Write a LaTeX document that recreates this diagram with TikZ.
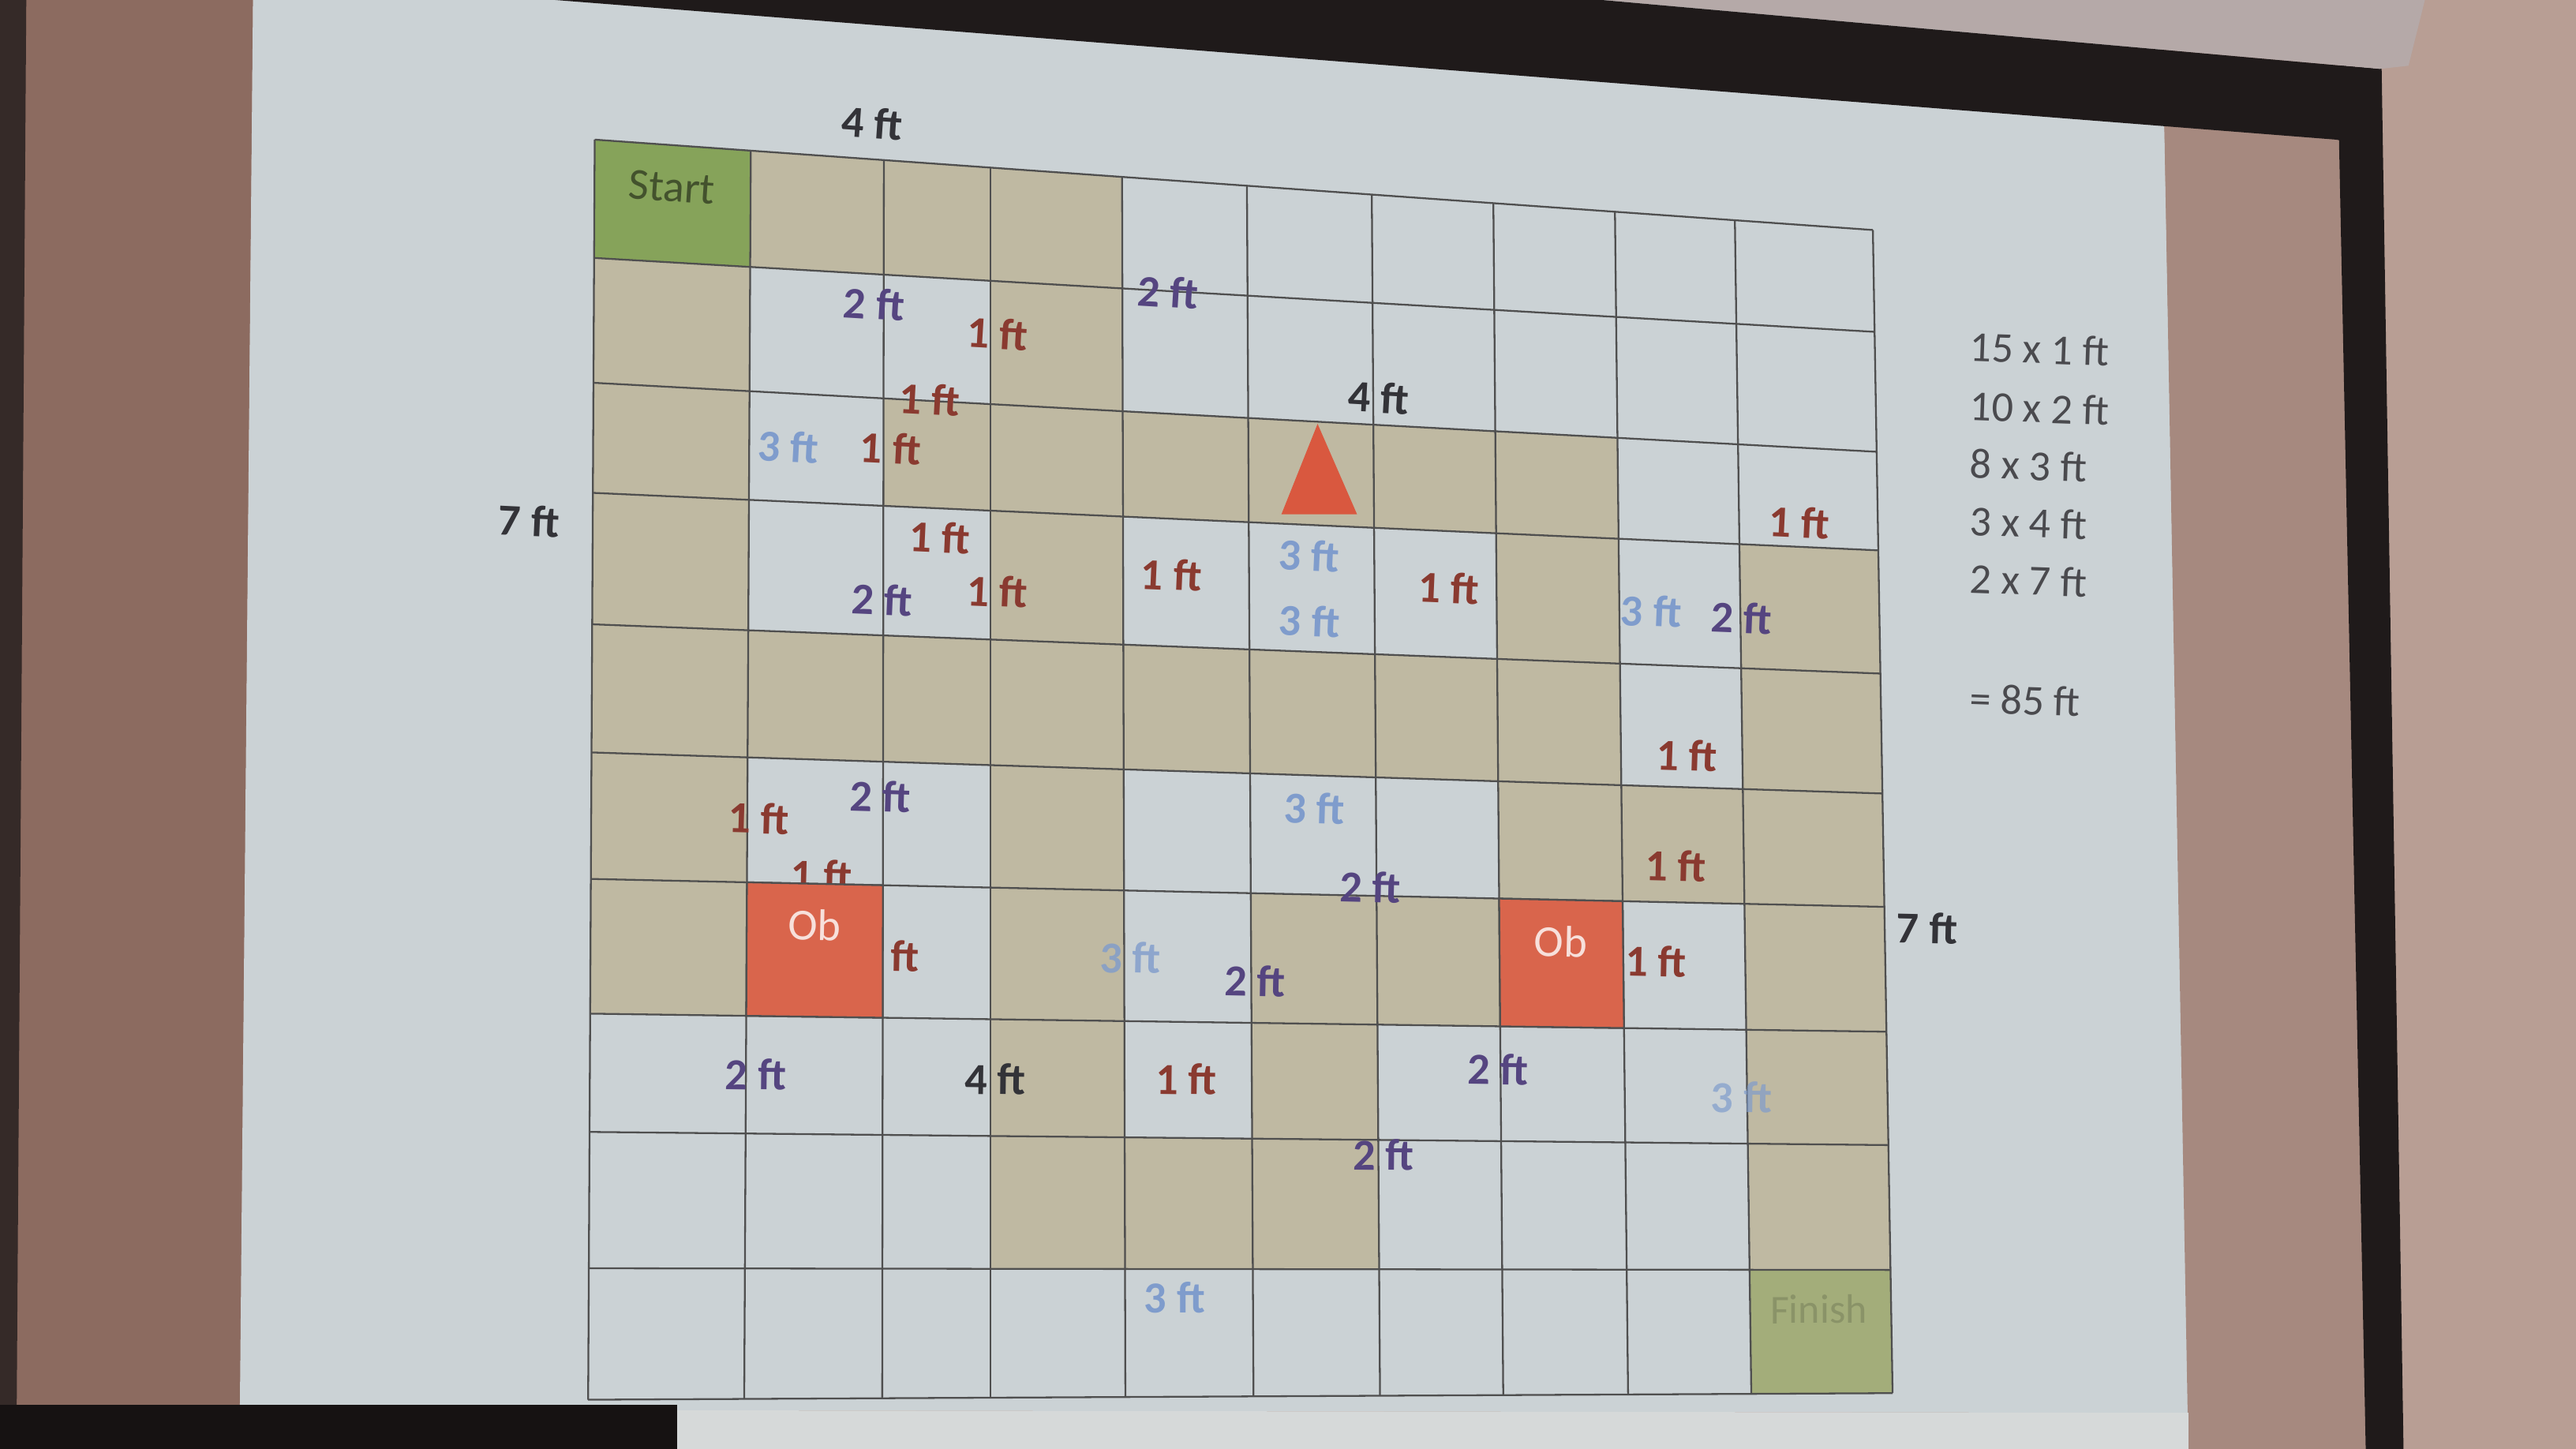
\documentclass[tikz,border=0pt]{standalone}
\usepackage{fontspec}
\setmainfont{Carlito}
\definecolor{slidebg}{HTML}{CBD2D5}
\definecolor{leftwall}{HTML}{8C6B60}
\definecolor{rightwall}{HTML}{B89E94}
\definecolor{pinkscreen}{HTML}{A6897F}
\definecolor{framecol}{HTML}{1F1A1A}
\definecolor{casecol}{HTML}{B5A9A8}
\definecolor{screenlow}{HTML}{D6D9D9}
\definecolor{tancol}{HTML}{BFB9A2}
\definecolor{startcol}{HTML}{86A35A}
\definecolor{finishcol}{HTML}{A3AD7A}
\definecolor{obcol}{HTML}{D9654C}
\definecolor{tricol}{HTML}{D9583F}
\definecolor{gridcol}{HTML}{4F4F4F}
\definecolor{labR}{HTML}{8A3A30}
\definecolor{labP}{HTML}{554580}
\definecolor{labB}{HTML}{7F9CCC}
\definecolor{labK}{HTML}{333338}
\definecolor{sumcol}{HTML}{4A4A4E}
\tikzset{
  gridline/.style={draw=gridcol, line width=1.1pt},
  lbl/.style={inner sep=0pt, font=\fontsize{27}{27}\selectfont\bfseries},
  ftR/.style={lbl, text=labR},
  ftP/.style={lbl, text=labP},
  ftB/.style={lbl, text=labB},
  ftK/.style={lbl, text=labK},
  celltxt/.style={inner sep=0pt, font=\fontsize{27}{27}\selectfont},
  sumtxt/.style={inner sep=0pt, anchor=west, text=sumcol, font=\fontsize{26}{26}\selectfont, rotate=-2}
}
\newcommand\ftlab[5]{%
  \pgfmathsetmacro\labrot{-4.0+(#3-85)*0.0057}%
  \node[#4, rotate=\labrot] (#1) at (#2,#3) {#5};}
\begin{document}
\begin{tikzpicture}[x=1pt,y=-1pt]
\useasboundingbox (0,0) rectangle (1568,882);
% ---- photo background ----
\fill[rightwall] (0,0) rectangle (1568,882);
\fill[leftwall] (0,0) -- (154,0) -- (146,882) -- (0,882) -- cycle;
\fill[framecol!80!leftwall] (0,0) -- (16,0) -- (10,882) -- (0,882) -- cycle;
\fill[slidebg] (154,0) -- (1316,0) -- (1332,860) -- (146,858) -- cycle;
\fill[pinkscreen] (1316,0) -- (1424,0) -- (1442,882) -- (1332,882) -- cycle;
\fill[screenlow] (146,858) -- (1332,860) -- (1332,882) -- (146,882) -- cycle;
\fill[framecol!70!black] (0,855) rectangle (412,882);
\fill[framecol] (1422,0) -- (1449,0) -- (1463,882) -- (1440,882) -- cycle;
\fill[casecol] (975,0) -- (1448,42) -- (1466,40) -- (1476,0) -- cycle;
\fill[framecol] (338,0) -- (975,0) -- (1448,42) -- (1449,90) -- (1422,85) -- cycle;
% ---- grid geometry ----
\def\vlist{0/362/358,1/457/453,2/538/537,3/603/603,4/683/685,5/759/763,6/835/840,7/909/915,8/983/991,9/1056/1066,10/1140/1152}
\def\hlist{0/85/140,1/157/202,2/233/275,3/300/335,4/380/410,5/458/483,6/535/552,7/617/628,8/689/697,9/772/773,10/852/848}
\foreach \i/\xt/\xb in \vlist{
  \coordinate (vt\i) at (\xt,{85+(\xt-362)/778*55});
  \coordinate (vb\i) at (\xb,{852-(\xb-358)/794*4});
}
\foreach \j/\yl/\yr in \hlist{
  \coordinate (hl\j) at ({362-(\yl-85)/767*4},\yl);
  \coordinate (hr\j) at ({1140+(\yr-140)/708*12},\yr);
}
\foreach \i/\xt/\xb in \vlist{
  \foreach \j/\yl/\yr in \hlist{
    \pgfmathsetmacro\pAx{\xt/100}
    \pgfmathsetmacro\pAy{(85+(\xt-362)/778*55)/100}
    \pgfmathsetmacro\pBx{\xb/100}
    \pgfmathsetmacro\pBy{(852-(\xb-358)/794*4)/100}
    \pgfmathsetmacro\pCx{(362-(\yl-85)/767*4)/100}
    \pgfmathsetmacro\pCy{\yl/100}
    \pgfmathsetmacro\pDx{(1140+(\yr-140)/708*12)/100}
    \pgfmathsetmacro\pDy{\yr/100}
    \pgfmathsetmacro\pEx{\pBx-\pAx}
    \pgfmathsetmacro\pEy{\pBy-\pAy}
    \pgfmathsetmacro\pFx{\pDx-\pCx}
    \pgfmathsetmacro\pFy{\pDy-\pCy}
    \pgfmathsetmacro\pS{((\pCx-\pAx)*\pFy-(\pCy-\pAy)*\pFx)/(\pEx*\pFy-\pEy*\pFx)}
    \coordinate (p\i-\j) at ({(\pAx+\pS*\pEx)*100},{(\pAy+\pS*\pEy)*100});
  }
}
% ---- cell fills ----
\foreach \c/\r/\col in {1/0/tancol,2/0/tancol,3/0/tancol,
  0/1/tancol,3/1/tancol,
  0/2/tancol,2/2/tancol,3/2/tancol,4/2/tancol,5/2/tancol,6/2/tancol,7/2/tancol,
  0/3/tancol,3/3/tancol,7/3/tancol,9/3/tancol,
  0/4/tancol,1/4/tancol,2/4/tancol,3/4/tancol,4/4/tancol,5/4/tancol,6/4/tancol,7/4/tancol,9/4/tancol,
  0/5/tancol,3/5/tancol,7/5/tancol,8/5/tancol,9/5/tancol,
  0/6/tancol,3/6/tancol,5/6/tancol,6/6/tancol,9/6/tancol,
  3/7/tancol,5/7/tancol,9/7/tancol,
  3/8/tancol,4/8/tancol,5/8/tancol,9/8/tancol,
  0/0/startcol,9/9/finishcol}{
  \pgfmathtruncatemacro\cc{\c+1}
  \pgfmathtruncatemacro\rr{\r+1}
  \fill[\col] (p\c-\r) -- (p\cc-\r) -- (p\cc-\rr) -- (p\c-\rr) -- cycle;
}
% ---- grid lines ----
\foreach \i in {0,...,10}{ \draw[gridline] (vt\i) -- (vb\i); }
\foreach \j in {0,...,10}{ \draw[gridline] (hl\j) -- (hr\j); }
% ---- robot triangle ----
\coordinate (triA) at (802,258);
\coordinate (triB) at (780,313);
\coordinate (triC) at (826,313);
\fill[tricol] (triA) -- (triB) -- (triC) -- cycle;
% ---- labels ----
\ftlab{top4}{531}{75}{ftK}{4 ft}
\ftlab{startlbl}{409}{114}{celltxt, text=startcol!50!black}{Start}
\ftlab{a1}{532}{185}{ftP}{2 ft}
\ftlab{a2}{607}{203}{ftR}{1 ft}
\ftlab{a3}{711}{178}{ftP}{2 ft}
\ftlab{a4}{566}{243}{ftR}{1 ft}
\ftlab{a5}{839}{242}{ftK}{4 ft}
\ftlab{a6}{480}{272}{ftB}{3 ft}
\ftlab{a7}{542}{273}{ftR}{1 ft}
\ftlab{left7}{322}{317}{ftK}{7 ft}
\ftlab{a8}{572}{327}{ftR}{1 ft}
\ftlab{a9}{1095}{318}{ftR}{1 ft}
\ftlab{a10}{537}{365}{ftP}{2 ft}
\ftlab{a11}{607}{360}{ftR}{1 ft}
\ftlab{a12}{713}{350}{ftR}{1 ft}
\ftlab{a13}{797}{338}{ftB}{3 ft}
\ftlab{a14}{797}{378}{ftB}{3 ft}
\ftlab{a15}{882}{358}{ftR}{1 ft}
\ftlab{a16}{1005}{372}{ftB}{3 ft}
\ftlab{a17}{1060}{376}{ftP}{2 ft}
\ftlab{a18}{1027}{460}{ftR}{1 ft}
\ftlab{a19}{462}{498}{ftR}{1 ft}
\ftlab{a20}{536}{485}{ftP}{2 ft}
\ftlab{a21}{500}{533}{ftR}{1 ft}
\ftlab{a22}{800}{492}{ftB}{3 ft}
\ftlab{a23}{834}{540}{ftP}{2 ft}
\ftlab{a24}{1020}{527}{ftR}{1 ft}
\ftlab{a25}{541}{582}{ftR}{1 ft}
\ftlab{a26}{688}{583}{ftB, opacity=0.8}{3 ft}
\ftlab{a27}{764}{597}{ftP}{2 ft}
\ftlab{a28}{1008}{585}{ftR}{1 ft}
\ftlab{right7}{1173}{565}{ftK}{7 ft}
\ftlab{a29}{460}{654}{ftP}{2 ft}
\ftlab{a30}{606}{657}{ftK}{4 ft}
\ftlab{a31}{722}{657}{ftR}{1 ft}
\ftlab{a32}{912}{651}{ftP}{2 ft}
\ftlab{a33}{1060}{668}{ftB, opacity=0.7}{3 ft}
\ftlab{a34}{842}{703}{ftP}{2 ft}
\ftlab{a35}{715}{790}{ftB}{3 ft}
\ftlab{finishlbl}{1107}{797}{celltxt, text=finishcol!85!black, font=\fontsize{25}{25}\selectfont}{Finish}
% ---- obstacles (drawn over the labels they hide) ----
\foreach \c in {1,7}{
  \pgfmathtruncatemacro\cc{\c+1}
  \fill[obcol] (p\c-6) -- (p\cc-6) -- (p\cc-7) -- (p\c-7) -- cycle;
  \draw[gridline] (p\c-6) -- (p\cc-6) -- (p\cc-7) -- (p\c-7) -- cycle;
}
\ftlab{ob1}{496}{563}{celltxt, text=white!80!obcol}{Ob}
\ftlab{ob2}{950}{573}{celltxt, text=white!80!obcol}{Ob}
% ---- totals ----
\node[sumtxt] (s1) at (1199,211) {15 x 1 ft};
\node[sumtxt] (s2) at (1199,247) {10 x 2 ft};
\node[sumtxt] (s3) at (1199,282) {8 x 3 ft};
\node[sumtxt] (s4) at (1199,317) {3 x 4 ft};
\node[sumtxt] (s5) at (1199,352) {2 x 7 ft};
\node[sumtxt] (s6) at (1199,425) {= 85 ft};
\end{tikzpicture}
\end{document}
